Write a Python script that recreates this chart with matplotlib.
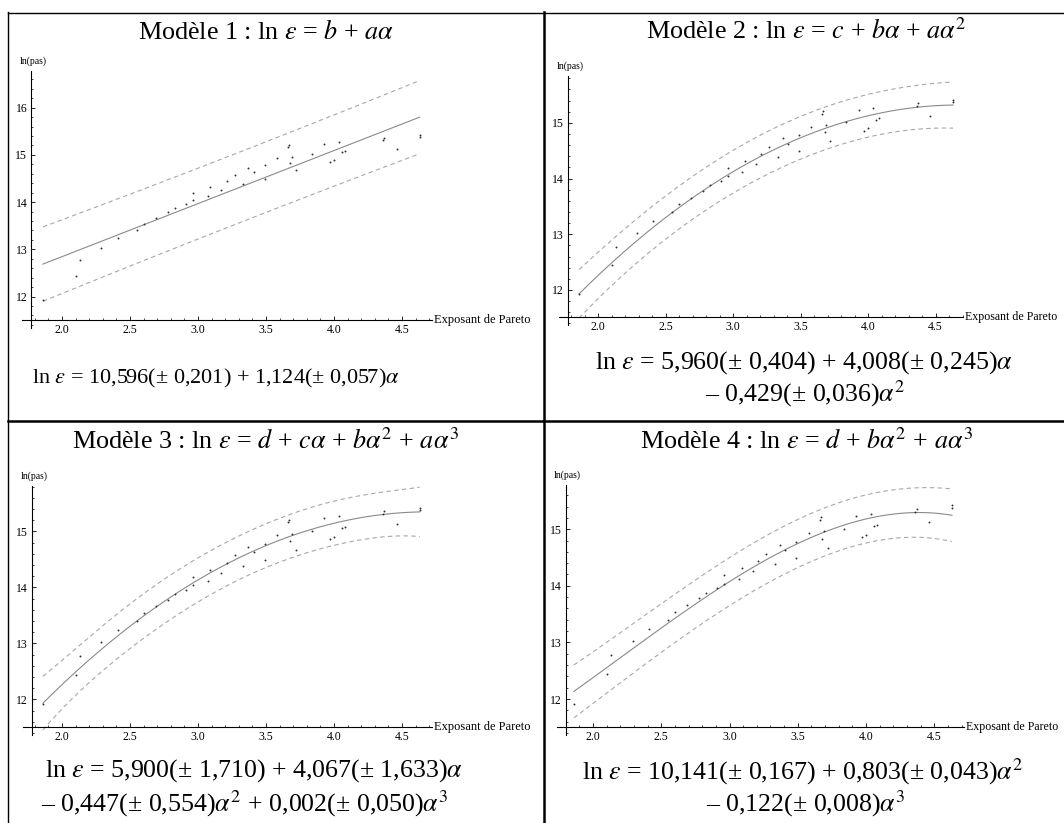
import numpy as np
import matplotlib
matplotlib.use("Agg")
import matplotlib.pyplot as plt
from matplotlib.lines import Line2D
from matplotlib.ticker import MultipleLocator, FormatStrFormatter

plt.rcParams['font.family'] = ['Liberation Serif', 'DejaVu Serif']
plt.rcParams['mathtext.fontset'] = 'stix'

# Observations: Pareto exponent and ln(pas)
alpha = [1.86, 2.10, 2.13, 2.29, 2.41, 2.55, 2.60, 2.69, 2.78, 2.83,
         2.91, 2.96, 2.96, 3.07, 3.09, 3.17, 3.21, 3.27, 3.33, 3.37,
         3.41, 3.49, 3.49, 3.58, 3.66, 3.67, 3.68, 3.69, 3.72, 3.84,
         3.93, 3.97, 4.00, 4.04, 4.06, 4.08, 4.36, 4.37, 4.46, 4.63, 4.63]
ln_pas = [11.92, 12.44, 12.77, 13.02, 13.23, 13.40, 13.54, 13.66, 13.78, 13.88,
          13.96, 14.19, 14.04, 14.12, 14.31, 14.26, 14.44, 14.57, 14.38, 14.72,
          14.63, 14.78, 14.49, 14.93, 15.16, 15.21, 14.83, 14.96, 14.67, 15.01,
          15.24, 14.86, 14.90, 15.27, 15.06, 15.08, 15.31, 15.36, 15.13, 15.38, 15.42]

# Fitted models: powers of alpha and estimated coefficients
model_powers = [[0, 1], [0, 1, 2], [0, 1, 2, 3], [0, 2, 3]]
model_coefs = [[10.596, 1.124],
               [5.960, 4.008, -0.429],
               [5.900, 4.067, -0.447, 0.002],
               [10.141, 0.803, -0.122]]

titles = [r"Modèle 1 : ln $\varepsilon$ = $b$ + $a\alpha$",
          r"Modèle 2 : ln $\varepsilon$ = $c$ + $b\alpha$ + $a\alpha^2$",
          r"Modèle 3 : ln $\varepsilon$ = $d$ + $c\alpha$ + $b\alpha^2$ + $a\alpha^3$",
          r"Modèle 4 : ln $\varepsilon$ = $d$ + $b\alpha^2$ + $a\alpha^3$"]
equations = [[r"ln $\varepsilon$ = 10,596(± 0,201) + 1,124(± 0,057)$\alpha$"],
             [r"ln $\varepsilon$ = 5,960(± 0,404) + 4,008(± 0,245)$\alpha$",
              r"– 0,429(± 0,036)$\alpha^2$"],
             [r"ln $\varepsilon$ = 5,900(± 1,710) + 4,067(± 1,633)$\alpha$",
              r"– 0,447(± 0,554)$\alpha^2$ + 0,002(± 0,050)$\alpha^3$"],
             [r"ln $\varepsilon$ = 10,141(± 0,167) + 0,803(± 0,043)$\alpha^2$",
              r"– 0,122(± 0,008)$\alpha^3$"]]
y_label = "ln(pas)"
x_label = "Exposant de Pareto"

W, H = 1064, 823
fig = plt.figure(figsize=(W / 100, H / 100), dpi=100)

# Panel geometry in pixels: x=2 position, px per unit x, y=12 position,
# px per unit y, axis crossing, axis ends
panels = [
    dict(x2=62, sx=136.0, y12=296.5, sy=47.2, ox=1.775, oy=11.51, xend=4.72, ytop=16.77),
    dict(x2=598, sx=135.0, y12=290.0, sy=55.7, ox=1.78, oy=11.52, xend=4.70, ytop=15.84),
    dict(x2=62, sx=136.0, y12=699.3, sy=56.0, ox=1.78, oy=11.50, xend=4.72, ytop=15.81),
    dict(x2=593, sx=136.5, y12=699.0, sy=56.6, ox=1.80, oy=11.50, xend=4.72, ytop=15.78),
]
label_size = [9, 8.6, 9, 8.6]
title_pos = [(266, 39), (806, 38.5), (266, 449), (807, 448.5)]
title_size = 18.8
eq_pos = [[(216, 383)],
          [(804, 369), (805, 401.5)],
          [(254, 776.5), (245, 811.5)],
          [(802.5, 779), (806, 811.5)]]
eq_size = [16, 18.6, 18.6, 18.6]

xa = np.array(alpha)
ya = np.array(ln_pas)
t_val = 2.72  # 99 % prediction band

for i, g in enumerate(panels):
    xleft = g['ox'] - 9 / g['sx']
    ybot = g['oy'] - 8 / g['sy']
    left_px = g['x2'] + (xleft - 2) * g['sx']
    width_px = (g['xend'] - xleft) * g['sx']
    top_px = g['y12'] - (g['ytop'] - 12) * g['sy']
    bot_px = g['y12'] - (ybot - 12) * g['sy']
    ax = fig.add_axes([left_px / W, 1 - bot_px / H, width_px / W, (bot_px - top_px) / H])
    ax.set_xlim(xleft, g['xend'])
    ax.set_ylim(ybot, g['ytop'])
    ax.patch.set_alpha(0)

    for s in ('top', 'right'):
        ax.spines[s].set_visible(False)
    ax.spines['left'].set_position(('data', g['ox']))
    ax.spines['bottom'].set_position(('data', g['oy']))
    for s in ('left', 'bottom'):
        ax.spines[s].set_linewidth(0.8)
        ax.spines[s].set_color('black')

    ax.xaxis.set_major_locator(MultipleLocator(0.5))
    ax.xaxis.set_minor_locator(MultipleLocator(0.1))
    ax.yaxis.set_major_locator(MultipleLocator(1))
    ax.yaxis.set_minor_locator(MultipleLocator(0.2))
    ax.xaxis.set_major_formatter(FormatStrFormatter('%.1f'))
    ax.yaxis.set_major_formatter(FormatStrFormatter('%d'))
    ax.tick_params(which='major', direction='in', length=3.2, width=0.6,
                   labelsize=8.5, pad=3, colors='black')
    ax.tick_params(which='minor', direction='in', length=1.6, width=0.5)

    # fitted curve and prediction band
    pw = model_powers[i]
    cf = np.array(model_coefs[i])
    X = np.column_stack([xa ** p for p in pw])
    resid = ya - X @ cf
    n, k = X.shape
    s = np.sqrt(np.sum(resid ** 2) / (n - k))
    XtX_inv = np.linalg.inv(X.T @ X)
    xs = np.linspace(xa.min(), xa.max(), 300)
    Xs = np.column_stack([xs ** p for p in pw])
    fit = Xs @ cf
    half = t_val * s * np.sqrt(1 + np.einsum('ij,jk,ik->i', Xs, XtX_inv, Xs))

    ax.plot(xs, fit, color='#8a8a8a', lw=0.8)
    for band in (fit + half, fit - half):
        ax.plot(xs, band, color='#a8a8a8', lw=0.8, dashes=(4, 3))
    ax.plot(xa, ya, linestyle='none', marker='o', markersize=1.4,
            color='#333333', markeredgewidth=0)

    ax.annotate(y_label, xy=(g['ox'], g['ytop']), xytext=(2, 10),
                textcoords='offset pixels', ha='center', va='center',
                fontsize=7, annotation_clip=False)
    ax.annotate(x_label, xy=(g['xend'], g['oy']), xytext=(2, 0),
                textcoords='offset pixels', ha='left', va='center',
                fontsize=label_size[i], annotation_clip=False)

    tx, ty = title_pos[i]
    fig.text(tx / W, 1 - ty / H, titles[i], ha='center', va='baseline',
             fontsize=title_size)
    for (ex, ey), line in zip(eq_pos[i], equations[i]):
        fig.text(ex / W, 1 - ey / H, line, ha='center', va='baseline',
                 fontsize=eq_size[i])

# table borders
def hline(y, x0, x1, lw):
    fig.add_artist(Line2D([x0 / W, x1 / W], [1 - y / H, 1 - y / H],
                          transform=fig.transFigure, color='black', lw=lw))

def vline(x, y0, y1, lw):
    fig.add_artist(Line2D([x / W, x / W], [1 - y0 / H, 1 - y1 / H],
                          transform=fig.transFigure, color='black', lw=lw))

hline(12.5, 8, W, 1.0)
vline(8, 12, H, 1.0)
hline(421, 8, W, 1.8)
vline(544, 12, H, 1.8)

fig.savefig("out.png", dpi=100)
